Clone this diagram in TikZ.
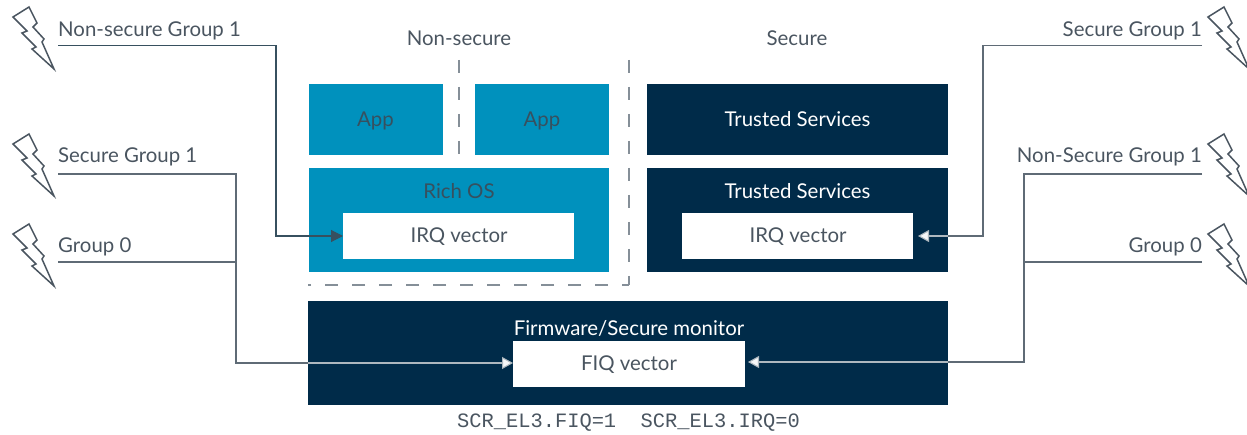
\documentclass[tikz,border=0pt]{standalone}
\usepackage{fontspec}
\setmainfont{Lato}
\setmonofont{Liberation Mono}
\usetikzlibrary{arrows.meta}
\definecolor{navyb}{HTML}{002B49}
\definecolor{cyanb}{HTML}{0091BD}
\definecolor{ink}{HTML}{4A5560}
\definecolor{appink}{HTML}{37505F}
\definecolor{lineg}{HTML}{5F6B76}
\definecolor{lightline}{HTML}{AEB8BF}
\definecolor{dashg}{HTML}{858F98}
\tikzset{
  x=1pt,y=-1pt,
  lbl/.style={font=\fontsize{20.4}{24}\selectfont,text=ink,inner sep=0pt},
  wlbl/.style={font=\fontsize{20.4}{24}\selectfont,text=white,inner sep=0pt},
  conn/.style={draw=lineg,line width=1.1pt},
  darr/.style={draw=appink,line width=1.1pt,-{Triangle[length=12pt,width=12pt]}},
  larr/.style={draw=lightline,line width=1.1pt,-{Triangle[length=11pt,width=12pt,fill=white!90!lightline]}},
  sep/.style={draw=dashg,line width=1.2pt,dash pattern=on 13pt off 14pt},
  bolt/.pic={\draw[ink,line width=1.5pt,miter limit=10]
     (29,7)--(13,17)--(27,31)--(22,33)--(36,47)--(32,49)--(54,69)--(42,42)--(44,39)--(33,27)--(37,23)--cycle;},
}
\begin{document}
\begin{tikzpicture}
\useasboundingbox (0,0) rectangle (1247,435);
% boxes
\fill[cyanb] (308.5,84) rectangle (443,155);
\fill[cyanb] (475,84) rectangle (609,155);
\fill[cyanb] (308.5,168) rectangle (609,272);
\fill[navyb] (647,84) rectangle (948,155);
\fill[navyb] (647,168) rectangle (948,272);
\fill[navyb] (308,301) rectangle (948,405);
\fill[white] (343,213) rectangle (574,259);
\fill[white] (682,213) rectangle (913,259);
\fill[white] (513,341) rectangle (745,387);
\node[lbl] (irqL) at (459,237) {IRQ vector};
\node[lbl] (irqR) at (798,237) {IRQ vector};
\node[lbl] (fiq) at (629,365) {FIQ vector};
\coordinate (irqLw) at (343,236);
\coordinate (irqRe) at (918,236);
\coordinate (fiqw) at (513,363);
\coordinate (fiqe) at (748,362);
% box labels
\node[lbl,text=appink] (app1) at (375.5,121) {App};
\node[lbl,text=appink] (app2) at (542,121) {App};
\node[lbl,text=appink] (rich) at (459,191) {Rich OS};
\node[wlbl] (ts1) at (797.5,119.5) {Trusted Services};
\node[wlbl] (ts2) at (797.5,191) {Trusted Services};
\node[wlbl] (fw) at (629,328.5) {Firmware/Secure monitor};
% headings
\node[lbl] (hns) at (459,38) {Non-secure};
\node[lbl] (hs) at (797,38) {Secure};
% separators
\coordinate (s1a) at (459,60);
\coordinate (s1b) at (459,155);
\coordinate (s2a) at (629,60);
\coordinate (s2b) at (629,285);
\coordinate (s2c) at (308,285);
\draw[sep] (s1a) -- (s1b);
\draw[sep] (s2a) -- (s2b);
\draw[sep,dash phase=6pt] (s2b) -- (s2c);
% bolts
\pic at (0,0) {bolt};
\pic at (0,127) {bolt};
\pic at (0,217) {bolt};
\pic at (1195,0) {bolt};
\pic at (1195,127) {bolt};
\pic at (1195,217) {bolt};
% signal labels
\node[lbl,anchor=base west] (l1) at (58,37) {Non-secure Group 1};
\node[lbl,anchor=base west] (l2) at (58,163) {Secure Group 1};
\node[lbl,anchor=base west] (l3) at (58,253) {Group 0};
\node[lbl,anchor=base east] (r1) at (1202,37) {Secure Group 1};
\node[lbl,anchor=base east] (r2) at (1202,163) {Non-Secure Group 1};
\node[lbl,anchor=base east] (r3) at (1202,253) {Group 0};
% connector ends
\coordinate (c1) at (58,45.5);
\coordinate (c2) at (58,174);
\coordinate (c3) at (58,262);
\coordinate (d1) at (1202,45.5);
\coordinate (d2) at (1202,174);
\coordinate (d3) at (1202,262);
\coordinate (el) at (308,363);
\coordinate (er) at (948,362);
\coordinate (ir) at (948,236);
% connectors
\draw[darr] (c1) -- (276,45.5) -- (276,236) -- (irqLw);
\draw[conn] (c2) -- (236,174) -- (236,363) -- (el);
\draw[conn] (c3) -- (236,262);
\draw[larr] (el) -- (fiqw);
\draw[conn] (d1) -- (983,45.5) -- (983,236) -- (ir);
\draw[larr] (ir) -- (irqRe);
\draw[conn] (d2) -- (1024,174) -- (1024,362) -- (er);
\draw[conn] (d3) -- (1024,262);
\draw[larr] (er) -- (fiqe);
% footer
\node[inner sep=0pt,text=ink,font=\ttfamily\fontsize{20.4}{24}\selectfont] (foot) at (628.5,422.5) {SCR\_EL3.FIQ=1\ \ SCR\_EL3.IRQ=0};
\end{tikzpicture}
\end{document}
